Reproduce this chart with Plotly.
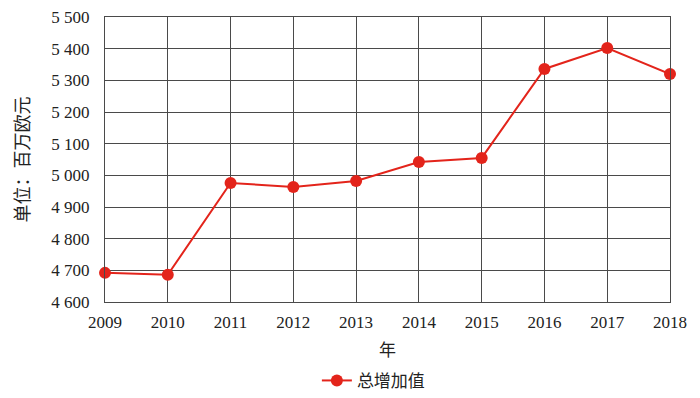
import plotly.graph_objects as go

years = [2009, 2010, 2011, 2012, 2013, 2014, 2015, 2016, 2017, 2018]
values = [4692, 4686, 4976, 4963, 4982, 5042, 5055, 5336, 5402, 5320]
y_ticks = [4600, 4700, 4800, 4900, 5000, 5100, 5200, 5300, 5400, 5500]
y_ticktext = ["4 600", "4 700", "4 800", "4 900", "5 000", "5 100", "5 200", "5 300", "5 400", "5 500"]
series_name = "总增加值"
x_title = "年"
y_title = "单位：百万欧元"

FONT = "Liberation Serif, Noto Sans CJK SC, serif"
RED = "#e3241b"
GRID = "#4a4a4a"

fig = go.Figure()
fig.add_trace(go.Scatter(
    x=years, y=values, name=series_name, mode="lines+markers",
    line=dict(color=RED, width=2),
    marker=dict(color=RED, size=12),
    cliponaxis=False,
))

fig.update_layout(
    width=700, height=398,
    margin=dict(l=105, r=30, t=17, b=96, autoexpand=False),
    paper_bgcolor="white", plot_bgcolor="white",
    font=dict(family=FONT, size=17, color="#222"),
    showlegend=True,
    legend=dict(orientation="h", x=0.475, xanchor="center",
                yref="container", y=0.043, yanchor="middle",
                font=dict(size=17, family=FONT)),
)
fig.update_xaxes(
    range=[2009, 2018], tickvals=years, ticktext=[str(y) for y in years],
    showgrid=True, gridcolor=GRID, gridwidth=1,
    showline=True, linecolor=GRID, linewidth=1, mirror=True,
    ticks="", ticklabelstandoff=5, tickfont=dict(size=17),
    title=dict(text=x_title, font=dict(size=17), standoff=12),
    zeroline=False, automargin=False,
)
fig.update_yaxes(
    range=[4600, 5500], tickvals=y_ticks, ticktext=y_ticktext,
    showgrid=True, gridcolor=GRID, gridwidth=1,
    showline=True, linecolor=GRID, linewidth=1, mirror=True,
    ticks="", ticklabelstandoff=11, tickfont=dict(size=17),
    title=dict(text=y_title, font=dict(size=18), standoff=17),
    zeroline=False, automargin=False,
)
fig.write_html("out.html")
